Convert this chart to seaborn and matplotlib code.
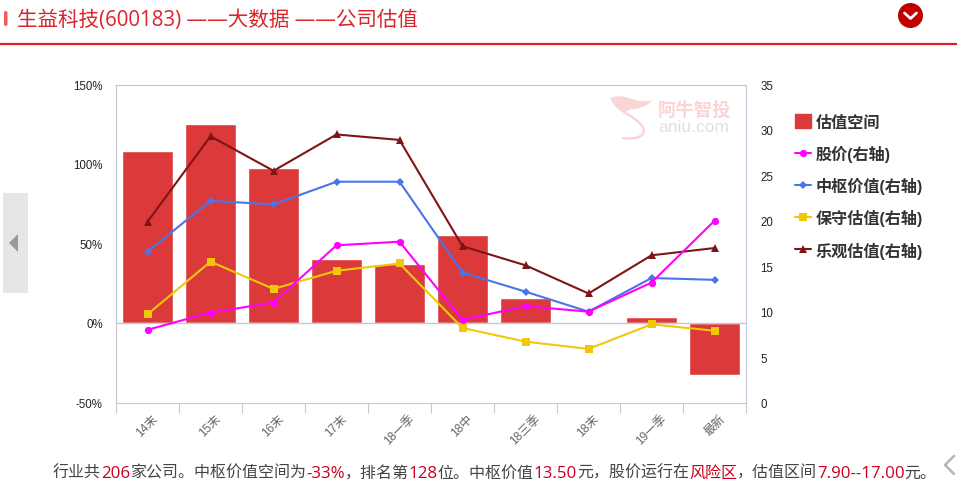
import numpy as np
import pandas as pd
import seaborn as sns
import matplotlib.pyplot as plt
from matplotlib.lines import Line2D
from matplotlib.patches import Patch, Rectangle, Circle, FancyBboxPatch, Polygon, PathPatch
from matplotlib.path import Path

# chart values
periods = ['14末', '15末', '16末', '17末', '18一季', '18中', '18三季', '18末', '19一季', '最新']
space = [108, 125, 97.5, 40, 37, 55.5, 15.7, 0, 3.8, -33]
price = [8.0, 9.9, 11.0, 17.3, 17.7, 9.1, 10.6, 10.0, 13.2, 20.0]
center = [16.6, 22.2, 21.8, 24.3, 24.3, 14.3, 12.2, 10.0, 13.7, 13.5]
conservative = [9.7, 15.5, 12.5, 14.5, 15.3, 8.2, 6.7, 5.9, 8.6, 7.9]
optimistic = [19.9, 29.3, 25.5, 29.5, 28.9, 17.2, 15.1, 12.0, 16.2, 17.0]
left_ticks = [-50, 0, 50, 100, 150]
right_ticks = [0, 5, 10, 15, 20, 25, 30, 35]

W, H = 957, 485
AXIS = '#c0cbd9'
GREY = '#c4c4c4'
FONTS = ['Liberation Sans', 'Noto Sans CJK SC']
WIDE_FONTS = ['Open Sans', 'Noto Sans CJK SC']

sns.set_theme(style='white')
plt.rcParams['font.family'] = FONTS

df = pd.DataFrame({'period': periods, 'space': space, 'price': price, 'center': center,
                   'conservative': conservative, 'optimistic': optimistic})

fig = plt.figure(figsize=(W / 100, H / 100), dpi=100)
ax = fig.add_axes([116 / W, 1 - 403.5 / H, 630 / W, 318 / H])

# bars on the left axis
sns.barplot(data=df, x='period', y='space', color='#dc3a3a', saturation=1, width=0.81, ax=ax, zorder=2)
ax.set_xlim(-0.5, 9.5)
ax.set_ylim(-50, 150)
ax.set_yticks(left_ticks)
ax.set_yticklabels([f'{v}%' for v in left_ticks], fontsize=8.3, color='#222222')
ax.set_xlabel('')
ax.set_ylabel('')
ax.tick_params(axis='y', length=0, pad=9.5)
ax.tick_params(axis='x', which='major', length=0, pad=7)
ax.set_xticks(np.arange(-0.5, 10, 1), minor=True)
ax.tick_params(axis='x', which='minor', length=7, width=0.8, color=AXIS, bottom=True)
for label in ax.get_xticklabels():
    label.set_rotation(45)
    label.set_fontsize(8.6)
    label.set_color('#666666')
ax.axhline(0, color=AXIS, lw=1, zorder=3)
for side in ['top', 'left']:
    ax.spines[side].set_color(GREY)
    ax.spines[side].set_linewidth(0.8)
ax.spines['right'].set_color(AXIS)
ax.spines['right'].set_linewidth(0.8)
ax.spines['bottom'].set_color(AXIS)
ax.spines['bottom'].set_linewidth(0.8)

# lines on the right axis
ax2 = ax.twinx()
styles = [('optimistic', '#7f1416', '^', 6), ('conservative', '#f0c808', 's', 5.5),
          ('center', '#4a74e8', 'D', 3.8), ('price', '#ff00ff', 'o', 5.2)]
for col, colour, mark, size in styles:
    sns.lineplot(data=df, x=np.arange(len(periods)), y=col, color=colour, marker=mark, markersize=size,
                 markeredgewidth=0, linewidth=1.5, sort=False, errorbar=None, ax=ax2, zorder=4)
ax2.set_ylim(0, 35)
ax2.set_yticks(right_ticks)
ax2.set_yticklabels([str(v) for v in right_ticks], fontsize=8.3, color='#222222')
ax2.set_ylabel('')
ax2.tick_params(axis='y', length=0, pad=10.5)
for side in ax2.spines:
    ax2.spines[side].set_visible(False)

# legend
handles = [Patch(color='#dc3a3a'),
           Line2D([], [], color='#ff00ff', marker='o', ms=5.2, mew=0, lw=1.5),
           Line2D([], [], color='#4a74e8', marker='D', ms=3.8, mew=0, lw=1.5),
           Line2D([], [], color='#f0c808', marker='s', ms=5.5, mew=0, lw=1.5),
           Line2D([], [], color='#7f1416', marker='^', ms=6, mew=0, lw=1.5)]
names = ['估值空间', '股价(右轴)', '中枢价值(右轴)', '保守估值(右轴)', '乐观估值(右轴)']
fig.legend(handles, names, loc='upper left', bbox_to_anchor=(795 / W, 1 - 115 / H), frameon=False,
           prop={'family': FONTS, 'size': 11.6, 'weight': 'bold'}, labelcolor='#333333', labelspacing=0.94,
           handlelength=1.0, handleheight=1.0, handletextpad=0.3, borderpad=0, borderaxespad=0)

# page furniture, drawn in pixel coordinates
page = fig.add_axes([0, 0, 1, 1], zorder=-1)
page.set_xlim(0, W)
page.set_ylim(H, 0)
page.axis('off')
over = fig.add_axes([0, 0, 1, 1], zorder=5)
over.set_xlim(0, W)
over.set_ylim(H, 0)
over.axis('off')
over.patch.set_alpha(0)

page.add_patch(FancyBboxPatch((4, 12), 3.5, 15, boxstyle='round,pad=0,rounding_size=1.7', fc='#f75a5a', ec='none'))
page.text(17, 20.5, '生益科技(600183) ——大数据 ——公司估值', fontsize=14.8, color='#d9252b', va='center', ha='left',
          family=WIDE_FONTS)
page.plot([0, W], [45, 45], color='#d9232b', lw=1.6)
page.add_patch(Circle((910.5, 16.5), 12.5, fc='#c00000', ec='none'))
page.plot([904.5, 910.5, 916.5], [14, 19.5, 14], color='white', lw=2, solid_capstyle='round')
page.add_patch(Rectangle((3, 194), 25, 100, fc='#e6e6e6', ec='none'))
page.add_patch(Polygon([[9, 244], [18, 235], [18, 253]], fc='#999999', ec='none'))
page.plot([954, 945, 954], [457, 466, 475], color='#b5b5b5', lw=1.8)

# watermark
body = Path([(610, 99), (620, 95), (632, 100), (642, 104), (652, 101), (648, 108), (634, 110),
             (626, 111), (624, 114), (615, 110), (610, 99)],
            [Path.MOVETO] + [Path.CURVE3] * 10)
tail = Path([(624, 113), (650, 128), (642, 136), (636, 141), (622, 139)],
            [Path.MOVETO, Path.CURVE3, Path.CURVE3, Path.CURVE3, Path.CURVE3])
over.add_patch(PathPatch(body, fc='#f9d5d5', ec='none', zorder=1))
over.add_patch(PathPatch(tail, fc='none', ec='#f9d5d5', lw=1.8, zorder=1))
over.text(658, 110.5, '阿牛智投', fontsize=13.2, color='#f9d5d5', weight='bold', va='center', ha='left')
over.text(658, 128, 'aniu.com', fontsize=12.5, color='#e0e0e0', va='center', ha='left')

# footer sentence with red numbers, each piece placed after the last one
RED = '#c8001e'
DARK = '#444444'
parts = [('行业共', DARK, 11.5), ('206', RED, 12.2), ('家公司。中枢价值空间为', DARK, 11.5), ('-33%', RED, 12.2),
         ('，排名第', DARK, 11.5), ('128', RED, 12.2), ('位。中枢价值', DARK, 11.5), ('13.50', RED, 12.2),
         ('元，股价运行在', DARK, 11.5), ('风险区', RED, 11.5), ('，估值区间', DARK, 11.5),
         ('7.90--17.00', RED, 12.2), ('元。', DARK, 11.5)]
renderer = fig.canvas.get_renderer()
x_px = 53
for piece, colour, size in parts:
    t = page.text(x_px, 474, piece, fontsize=size, color=colour, va='center', ha='left', family=WIDE_FONTS)
    x_px = t.get_window_extent(renderer).x1

plt.savefig('out.png', dpi=100)
